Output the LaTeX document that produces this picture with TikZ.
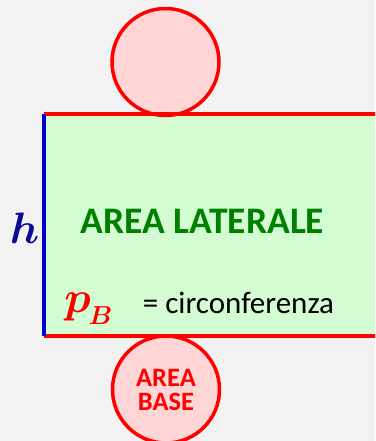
\documentclass[tikz,border=0pt]{standalone}
\usepackage{fix-cm}
\usepackage{amsmath}
\usepackage{fontspec}
\usetikzlibrary{positioning}
\newfontfamily\carlito{Carlito}
\definecolor{bggray}{HTML}{F2F2F2}
\definecolor{latgreen}{HTML}{D3FCD3}
\definecolor{txtgreen}{HTML}{008000}
\definecolor{basefill}{HTML}{FFD5D5}
\definecolor{hblue}{HTML}{0A0A96}
\definecolor{sideblue}{HTML}{0000CC}
\tikzset{
  basecirc/.style={circle,draw=red,fill=basefill,line width=3.5pt,minimum size=107pt,inner sep=0pt,align=center,text=red,font=\carlito\bfseries\fontsize{26.5}{24}\selectfont},
  redline/.style={draw=red,line width=3.5pt},
  blueline/.style={draw=sideblue,line width=3.5pt},
  mathlab/.style={anchor=base,inner sep=0pt,font=\fontsize{44}{44}\selectfont},
}

\begin{document}
\begin{tikzpicture}[x=1pt,y=-1pt]
  \fill[bggray] (0,0) rectangle (375,441);
  \clip (0,0) rectangle (375,441);
  % lateral surface
  \draw[black,line width=0.8pt,fill=latgreen] (44,115) rectangle (395,336);
  \node[basecirc] (topbase) at (165.5,62) {};
  \node[basecirc] (botbase) at (166,389.5) {AREA\\BASE};
  \coordinate (tl) at (44,114);
  \coordinate (tr) at (395,114);
  \coordinate (bl) at (44,336);
  \coordinate (br) at (395,336);
  \draw[redline] (tl) -- (tr);
  \draw[redline] (bl) -- (br);
  \draw[blueline] (tl) -- (bl);
  % labels
  \node[anchor=base,text=txtgreen,font=\carlito\bfseries\fontsize{37.5}{37.5}\selectfont] (lat) at (202.5,233) {AREA LATERALE};
  \node[mathlab,text=hblue] (hlab) at (24.5,243) {$\boldsymbol{h}$};
  \node[mathlab,text=red] (plab) at (77.5,312) {$\boldsymbol{p}$};
  \node[mathlab,text=red,font=\fontsize{26}{26}\selectfont] (blab) at (100.5,324) {$\boldsymbol{B}$};
  \node[anchor=base,font=\carlito\fontsize{31}{31}\selectfont] (circ) at (238.5,313) {= circonferenza};
\end{tikzpicture}
\end{document}
